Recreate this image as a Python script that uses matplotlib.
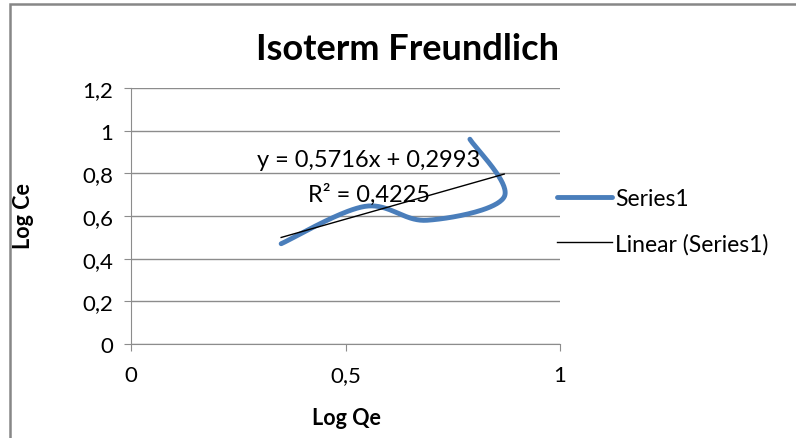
import numpy as np
import matplotlib.pyplot as plt
from matplotlib.patches import Rectangle
from matplotlib.lines import Line2D

plt.rcParams['font.family'] = ['Lato', 'DejaVu Sans']

# data
log_qe = [0.35, 0.545, 0.69, 0.87, 0.79]
log_ce = [0.47, 0.645, 0.58, 0.69, 0.96]
slope = 0.5716
intercept = 0.2993
eq_text = "y = 0,5716x + 0,2993"
r2_text = "R² = 0,4225"
y_ticks = [0, 0.2, 0.4, 0.6, 0.8, 1.0, 1.2]
y_labels = ["0", "0,2", "0,4", "0,6", "0,8", "1", "1,2"]
x_ticks = [0, 0.5, 1]
x_labels = ["0", "0,5", "1"]


def smooth(xs, ys, n=40):
    # catmull-rom style smoothing like Excel's smoothed line
    p = np.column_stack([xs, ys])
    p = np.vstack([p[0], p, p[-1]])
    out = []
    for i in range(1, len(p) - 2):
        p0, p1, p2, p3 = p[i - 1], p[i], p[i + 1], p[i + 2]
        c1 = p1 + (p2 - p0) / 6
        c2 = p2 - (p3 - p1) / 6
        t = np.linspace(0, 1, n)[:, None]
        seg = (1 - t) ** 3 * p1 + 3 * (1 - t) ** 2 * t * c1 + 3 * (1 - t) * t ** 2 * c2 + t ** 3 * p2
        out.append(seg)
    s = np.vstack(out)
    return s[:, 0], s[:, 1]


fig = plt.figure(figsize=(7.96, 4.39), dpi=100)
ax = fig.add_axes([131 / 796, 1 - 345 / 439, 429 / 796, 256 / 439])

sx, sy = smooth(log_qe, log_ce)
ax.plot(sx, sy, color='#4a7ebb', lw=3.5, solid_capstyle='round', zorder=3)

tx = np.array([min(log_qe), max(log_qe)])
ax.plot(tx, slope * tx + intercept, color='black', lw=1, zorder=4)

ax.set_xlim(0, 1)
ax.set_ylim(0, 1.2)
ax.set_yticks(y_ticks)
ax.set_yticklabels(y_labels)
ax.set_xticks(x_ticks)
ax.set_xticklabels(x_labels)
ax.yaxis.grid(True, color='#8c8c8c', lw=1)
ax.set_axisbelow(True)
for s in ['top', 'right']:
    ax.spines[s].set_visible(False)
for s in ['left', 'bottom']:
    ax.spines[s].set_color('#8c8c8c')
ax.tick_params(axis='both', colors='#8c8c8c', labelcolor='black', labelsize=16, length=5)
ax.tick_params(axis='x', pad=10)
ax.tick_params(axis='y', pad=8)

ax.text(0.555, 0.867, eq_text, ha='center', va='center', fontsize=17)
ax.text(0.555, 0.703, r2_text, ha='center', va='center', fontsize=17)

fig.text(408 / 796, 1 - 50 / 439, "Isoterm Freundlich", ha='center', va='center',
         fontsize=26, fontweight='bold')
fig.text(346 / 796, 1 - 419 / 439, "Log Qe", ha='center', va='center',
         fontsize=15.5, fontweight='bold')
fig.text(24 / 796, 1 - 216 / 439, "Log Ce", ha='center', va='center',
         fontsize=15.5, fontweight='bold', rotation=90)

handles = [Line2D([], [], color='#4a7ebb', lw=3.5, solid_capstyle='round'),
           Line2D([], [], color='black', lw=1)]
fig.legend(handles, ["Series1", "Linear (Series1)"], loc='center left',
           bbox_to_anchor=(536 / 796, 1 - 222 / 439), frameon=False, fontsize=16.5,
           handlelength=2.4, handletextpad=0.15, labelspacing=1.05)

fig.patches.append(Rectangle((10 / 796, -0.1), 1.2, 1 - 5 / 439 + 0.1,
                             transform=fig.transFigure, fill=False,
                             edgecolor='#878787', lw=1.8))

fig.savefig("out.png", dpi=100)
